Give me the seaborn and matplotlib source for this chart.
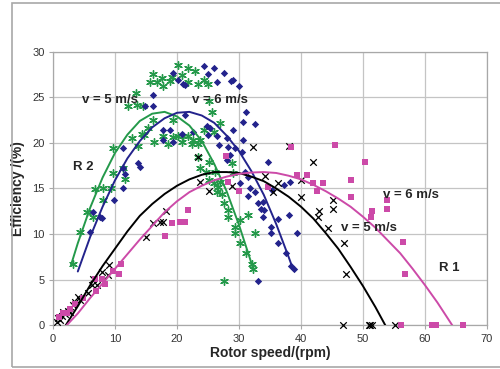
import matplotlib
matplotlib.use("Agg")
import matplotlib.pyplot as plt
import seaborn as sns
import pandas as pd
from matplotlib.patches import Rectangle

# ---- data ----
# R 2, v = 5 m/s (green stars)
r2_v5_x = [3.2, 4.4, 5.5, 6.5, 6.8, 8.0, 8.1, 9.4, 9.7, 9.7, 11.3, 11.6, 12.8, 13.7, 14.4,
           12.1, 13.5, 13.4, 14.5, 14.6, 15.4, 16.2, 16.3, 17.8, 18.6, 19.4, 19.4, 20.2, 20.8,
           21.0, 21.8, 22.4, 22.6, 23.4, 23.7, 24.3, 25.9, 23.4, 25.1, 23.7, 24.6, 26.2, 25.1,
           25.9, 26.6, 27.0, 26.5, 27.3, 27.5, 28.3, 28.3, 28.9, 29.1, 29.4, 29.4, 30.2, 31.4,
           32.6, 30.2, 31.2, 32.1, 32.3, 27.5, 25.7, 27.0, 25.1,
           16.2, 15.7, 16.8, 17.6, 17.8, 18.8, 19.2, 20.2, 20.8, 21.8, 22.9, 21.8, 23.4, 24.3, 25.0]
r2_v5_y = [6.7, 10.2, 12.4, 11.9, 14.9, 15.0, 13.7, 15.1, 16.7, 19.4, 17.3, 16.0, 20.5, 19.7, 21.0,
           24.0, 24.2, 25.5, 24.0, 20.9, 21.6, 22.5, 20.1, 20.7, 19.9, 20.6, 22.5, 20.8, 20.1,
           20.7, 20.7, 19.9, 20.3, 19.9, 20.3, 21.4, 21.2, 18.5, 17.9, 17.2, 16.8, 16.8, 15.9,
           15.6, 15.2, 15.7, 14.6, 14.4, 13.4, 12.6, 11.9, 17.8, 16.7, 10.8, 10.1, 11.5, 12.1,
           10.1, 9.0, 7.9, 6.7, 6.2, 4.9, 23.4, 22.2, 24.6,
           27.6, 26.7, 26.7, 27.1, 26.2, 26.8, 27.2, 28.5, 27.4, 28.2, 27.9, 26.7, 26.5, 26.9, 26.5]

# R 2, v = 6 m/s (blue diamonds)
r2_v6_x = [6.0, 6.5, 7.6, 7.9, 9.9, 11.3, 11.6, 11.3, 11.3, 13.7, 14.0, 16.2, 14.8, 16.2, 19.4,
           20.2, 21.0, 21.3, 24.3, 25.9, 27.6, 26.4, 28.7, 29.1, 30.0, 25.0, 21.3, 17.8, 18.9,
           17.8, 19.4, 20.8, 22.6, 25.0, 24.8, 25.4, 26.5, 26.7, 28.1, 29.1, 29.4, 30.7, 31.1,
           32.5, 30.7, 28.3, 28.6, 28.1, 30.5, 31.0, 31.5, 34.7, 37.2, 38.3, 31.5, 32.6, 33.1,
           33.9, 33.6, 34.1, 33.9, 35.4, 38.0, 36.3, 35.1, 35.1, 39.3, 36.3, 37.5, 38.4, 38.8,
           33.0, 30.2, 31.8]
r2_v6_y = [10.2, 12.4, 11.9, 11.8, 13.7, 15.1, 16.6, 17.3, 19.4, 17.8, 17.4, 25.2, 24.0, 24.0, 27.7,
           26.9, 26.5, 26.3, 28.4, 28.2, 27.7, 26.7, 26.8, 26.9, 26.2, 27.6, 23.1, 21.4, 21.4,
           20.3, 20.1, 21.0, 21.2, 20.9, 21.8, 21.6, 20.7, 19.8, 20.5, 21.4, 19.4, 20.3, 23.4,
           22.1, 22.3, 19.6, 18.7, 18.1, 19.0, 16.8, 16.3, 17.9, 15.4, 15.7, 14.2, 14.6, 13.4,
           13.5, 12.8, 12.6, 11.9, 14.8, 12.1, 11.6, 10.8, 10.1, 10.1, 9.0, 7.9, 6.5, 6.2,
           4.9, 15.6, 15.0]

# R 1, v = 5 m/s (black crosses)
r1_v5_x = [0.6, 0.8, 1.1, 1.4, 1.6, 2.0, 2.4, 2.8, 3.2, 3.6, 4.0, 4.4, 5.7, 6.3, 6.5, 7.1, 7.9,
           8.9, 9.0, 15.0, 16.2, 17.3, 17.8, 18.3, 25.1, 23.4, 23.7, 28.9, 32.2, 34.2, 38.1,
           42.0, 36.3, 35.5, 40.0, 40.0, 45.1, 45.1, 42.9, 42.8, 44.4, 46.9, 47.3, 46.8, 50.9,
           51.2, 51.5, 55.1]
r1_v5_y = [0.4, 0.8, 0.6, 1.0, 1.5, 1.2, 1.6, 1.5, 2.2, 2.6, 3.1, 2.8, 3.5, 4.4, 5.1, 4.4, 5.8,
           5.5, 6.6, 9.7, 11.2, 11.3, 11.3, 12.5, 14.7, 18.5, 15.7, 15.3, 19.5, 16.4, 19.7,
           17.9, 15.6, 14.6, 15.9, 14.1, 13.7, 12.8, 12.5, 11.9, 10.7, 9.0, 5.6, 0.0, 0.0,
           0.0, 0.0, 0.0]

# R 1, v = 6 m/s (magenta squares)
r1_v6_x = [1.0, 1.6, 2.2, 2.8, 3.6, 4.8, 7.0, 6.8, 7.9, 8.4, 9.7, 10.6, 10.9, 18.0, 19.2, 20.5,
           21.3, 21.8, 27.9, 28.3, 30.0, 34.6, 38.4, 45.5, 50.4, 39.3, 41.0, 42.0, 43.6, 42.6,
           48.1, 48.1, 53.9, 53.9, 51.5, 51.3, 56.5, 56.7, 56.2, 61.2, 61.7, 66.1]
r1_v6_y = [0.9, 1.3, 1.4, 1.8, 2.3, 3.0, 3.8, 5.1, 5.1, 4.5, 6.0, 5.6, 6.7, 9.8, 11.2, 11.3,
           11.3, 12.6, 18.6, 15.7, 14.7, 15.2, 19.5, 19.8, 17.9, 16.5, 16.5, 15.6, 15.6, 14.7,
           15.9, 14.1, 13.7, 12.8, 12.5, 11.9, 9.1, 5.6, 0.0, 0.0, 0.0, 0.0]

# trend lines
trend_r2_v5_x = [2.9, 4, 6, 8, 10, 12, 14, 16, 18, 20, 22, 24, 26, 28, 30, 32.3]
trend_r2_v5_y = [6.6, 9.0, 12.9, 16.2, 18.9, 20.9, 22.4, 23.2, 23.4, 22.9, 21.9, 20.2, 17.7, 14.7, 11.0, 6.2]
trend_r2_v6_x = [4, 6, 8, 10, 12, 14, 16, 18, 20, 22, 24, 26, 28, 30, 32, 34, 36, 38, 38.8]
trend_r2_v6_y = [5.9, 9.7, 13.0, 15.9, 18.3, 20.2, 21.7, 22.7, 23.3, 23.4, 23.0, 22.2, 20.8, 19.1,
                 16.9, 14.3, 11.1, 7.5, 6.0]
trend_r1_v5_x = [2.05, 4, 6, 8, 10, 12, 14, 16, 18, 20, 22, 24, 26, 28, 30, 32, 34, 36, 38, 40,
                 42, 44, 46, 48, 50, 52, 53.6]
trend_r1_v5_y = [0.0, 2.1, 4.4, 6.5, 8.4, 10.3, 12.0, 13.3, 14.4, 15.3, 16.0, 16.5, 16.8, 16.8,
                 16.7, 16.3, 15.8, 15.0, 14.1, 13.0, 11.7, 10.1, 8.4, 6.4, 4.3, 2.0, 0.0]
trend_r1_v6_x = [2.2, 4, 6, 8, 10, 12, 14, 16, 18, 20, 22, 24, 26, 28, 30, 32, 34, 36, 38, 40,
                 42, 44, 46, 48, 50, 52, 54, 56, 58, 60, 62, 64.4]
trend_r1_v6_y = [0.0, 1.3, 3.0, 4.6, 6.2, 7.8, 9.4, 10.9, 12.4, 13.6, 14.6, 15.3, 15.9, 16.3,
                 16.6, 16.75, 16.8, 16.7, 16.4, 16.0, 15.4, 14.7, 13.9, 13.0, 11.9, 10.7, 9.3,
                 7.9, 6.2, 4.4, 2.5, 0.0]

labels = [("v = 5 m/s", 4.7, 24.7), ("v = 6 m/s", 22.5, 24.7), ("R 2", 3.2, 17.4),
          ("v = 6 m/s", 53.3, 14.3), ("v = 5 m/s", 46.4, 10.7), ("R 1", 62.2, 6.3)]

green = "#24994a"
navy = "#23238c"
pink = "#cc4aa8"

sns.set_style("white")
plt.rcParams['font.family'] = ['Liberation Sans', 'DejaVu Sans']

fig = plt.figure(figsize=(5, 3.69), dpi=100)
ax = fig.add_axes([0.106, 0.1184, 0.868, 0.7416])

# outer chart frame
fig.patches.append(Rectangle((0.024, 0.0054), 1.0, 0.9866, transform=fig.transFigure,
                             fill=False, edgecolor="#a8a8a8", lw=1.2))

sns.scatterplot(x=r2_v5_x, y=r2_v5_y, ax=ax, marker=(6, 2, 0), s=30, color=green,
                linewidth=1.0, clip_on=False, zorder=3)
sns.scatterplot(x=r2_v6_x, y=r2_v6_y, ax=ax, marker="D", s=14, color=navy,
                linewidth=0, clip_on=False, zorder=3)
sns.scatterplot(x=r1_v5_x, y=r1_v5_y, ax=ax, marker="x", s=22, color="black",
                linewidth=0.9, clip_on=False, zorder=3)
sns.scatterplot(x=r1_v6_x, y=r1_v6_y, ax=ax, marker="s", s=18, color=pink,
                linewidth=0, clip_on=False, zorder=3)

for tx, ty, c in [(trend_r2_v5_x, trend_r2_v5_y, green), (trend_r2_v6_x, trend_r2_v6_y, navy),
                  (trend_r1_v5_x, trend_r1_v5_y, "black"), (trend_r1_v6_x, trend_r1_v6_y, pink)]:
    sns.lineplot(x=tx, y=ty, ax=ax, color=c, lw=1.4, sort=False, estimator=None, zorder=4)

for txt, lx, ly in labels:
    ax.text(lx, ly, txt, fontsize=9.5, fontweight="bold", va="center", ha="left", zorder=5)

ax.set_xlim(0, 70)
ax.set_ylim(0, 30)
ax.set_xticks(range(0, 71, 10))
ax.set_yticks(range(0, 31, 5))
ax.grid(True, color="#c4c4c4", lw=0.9)
ax.set_axisbelow(True)
for sp in ax.spines.values():
    sp.set_color("#a8a8a8")
    sp.set_linewidth(0.9)
ax.tick_params(axis="both", labelsize=8, labelcolor="#333333", color="#a8a8a8",
               length=3, width=0.8, direction="out", bottom=True, left=True, pad=3)
ax.set_xlabel("Rotor speed/(rpm)", fontsize=10, fontweight="bold", labelpad=2)
ax.set_ylabel("Efficiency /(%)", fontsize=10, fontweight="bold", labelpad=5)

fig.savefig("out.png", dpi=100)
